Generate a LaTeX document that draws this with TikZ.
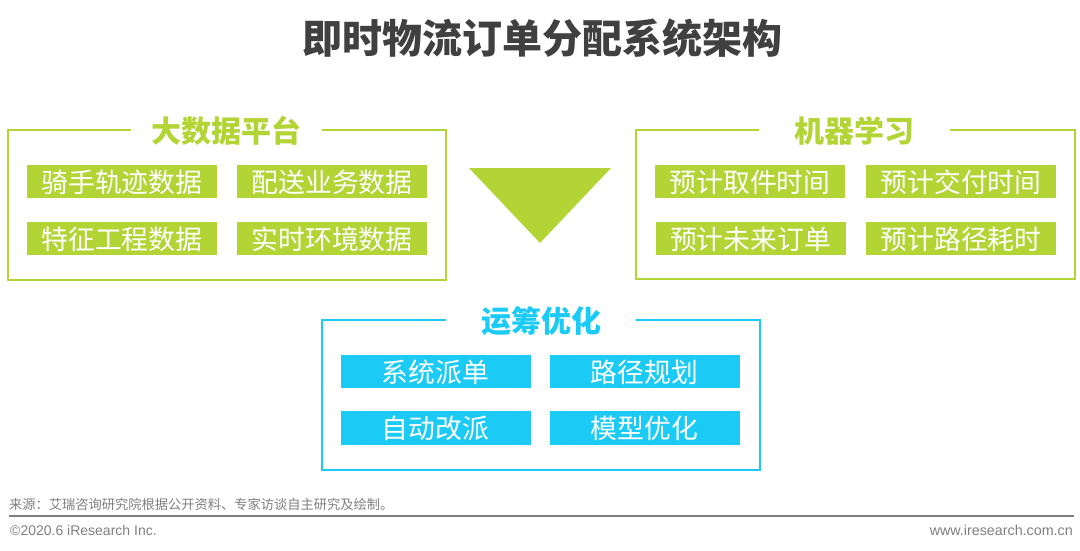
\documentclass[tikz,border=0pt]{standalone}
\usepackage{fontspec}
\setmainfont{Liberation Sans}
\newfontfamily\cjk{Noto Sans CJK SC}
\definecolor{lime}{HTML}{B2D435}
\definecolor{sky}{HTML}{1BCBF6}
\definecolor{titlegray}{HTML}{404040}
\definecolor{footgray}{HTML}{7F7F7F}
\tikzset{
  x=1pt,y=-1pt,
  frameline/.style={line width=2.2pt,line join=miter},
  cell/.style={minimum width=190pt,minimum height=33.5pt,inner sep=0pt,text=white,
    text height=24pt,text depth=2.6pt,
    font=\cjk\fontsize{26.8}{27}\selectfont},
  limecell/.style={cell,fill=lime},
  skycell/.style={cell,fill=sky},
  heading/.style={inner sep=0pt,font=\cjk\bfseries\fontsize{30}{30}\selectfont},
  foot/.style={inner sep=0pt,text=footgray},
}
\begin{document}
\begin{tikzpicture}
\useasboundingbox (0,0) rectangle (1080,550);
\node[inner sep=0pt,text=titlegray,font=\cjk\bfseries\fontsize{40}{40}\selectfont] (title) at (542,38) {即时物流订单分配系统架构};

% left panel
\draw[frameline,lime] (131,130) -- (7.8,130) -- (7.8,280) -- (445.6,280) -- (445.6,130) -- (322,130);
\node[heading,text=lime] (hleft) at (226,131) {大数据平台};
\node[limecell] (l1) at (122,181.5) {骑手轨迹数据};
\node[limecell] (l2) at (332,181.5) {配送业务数据};
\node[limecell] (l3) at (122,238.5) {特征工程数据};
\node[limecell] (l4) at (332,238.5) {实时环境数据};

% arrow
\fill[lime] (469,168) -- (611,168) -- (540,243) -- cycle;

% right panel
\draw[frameline,lime] (759,130) -- (636,130) -- (636,279) -- (1074.6,279) -- (1074.6,130) -- (950,130);
\node[heading,text=lime] (hright) at (854,131) {机器学习};
\node[limecell] (r1) at (750,181.5) {预计取件时间};
\node[limecell] (r2) at (961,181.5) {预计交付时间};
\node[limecell] (r3) at (750.5,238.5) {预计未来订单};
\node[limecell] (r4) at (961,238.5) {预计路径耗时};

% bottom panel
\draw[frameline,sky] (446,320) -- (322,320) -- (322,470) -- (760,470) -- (760,320) -- (636,320);
\node[heading,text=sky] (hbot) at (541,321) {运筹优化};
\node[skycell] (b1) at (435.5,371.5) {系统派单};
\node[skycell] (b2) at (644.5,371.5) {路径规划};
\node[skycell] (b3) at (435.5,428) {自动改派};
\node[skycell] (b4) at (644.5,428) {模型优化};

% footer
\node[foot,anchor=west,font=\cjk\fontsize{13.25}{14}\selectfont] (src) at (9,504) {来源：艾瑞咨询研究院根据公开资料、专家访谈自主研究及绘制。};
\draw[footgray,line width=1.3pt] (9,516) -- (1074,516);
\node[foot,anchor=west,font=\fontsize{14}{14}\selectfont] (copy) at (10,530) {©2020.6 iResearch Inc.};
\node[foot,anchor=east,font=\fontsize{14.3}{14}\selectfont] (web) at (1073,530) {www.iresearch.com.cn};
\end{tikzpicture}
\end{document}
